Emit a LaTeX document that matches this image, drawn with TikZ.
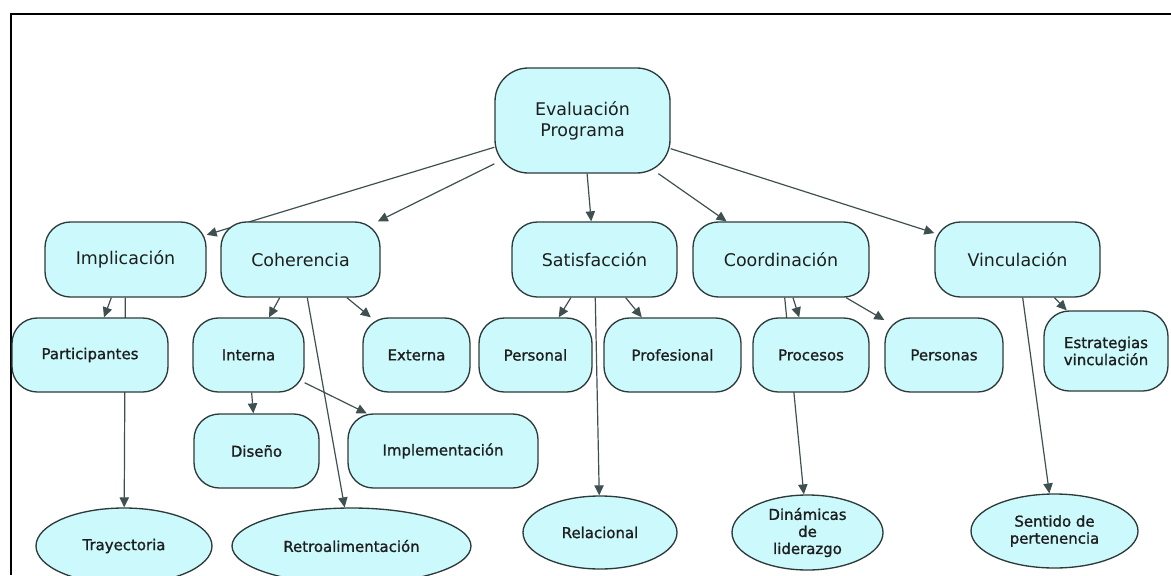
\documentclass[tikz,border=0pt]{standalone}
\usepackage{fontspec}
\setmainfont{DejaVu Sans}
\newfontfamily\subfont[FakeBold=1.2]{DejaVu Sans}
\usetikzlibrary{shapes.geometric,arrows.meta,backgrounds}

\definecolor{nodefill}{HTML}{CCFAFC}
\definecolor{nodeline}{HTML}{2E3A3A}
\definecolor{linkcol}{HTML}{3F5050}
\definecolor{textcol}{HTML}{1E1E1E}

\tikzset{
  concept/.style={draw=nodeline, fill=nodefill, line width=1pt, rounded corners=19pt,
    inner sep=0pt, text=textcol, align=center,
    font=\fontsize{13.1pt}{16pt}\selectfont},
  topic/.style={concept, rounded corners=25pt},
  sub/.style={concept, font=\subfont\fontsize{11.2pt}{12.8pt}\selectfont},
  leaf/.style={sub, ellipse, sharp corners},
  link/.style={draw=linkcol, line width=0.9pt, -{Triangle[length=7.5pt,width=7pt]}},
  frameline/.style={draw=black, line width=1.6pt},
}

\begin{document}
\begin{tikzpicture}[x=0.75pt, y=-0.75pt]
  \useasboundingbox (0,0) rectangle (1171,575);
  \clip (0,0) rectangle (1171,575);

  % page frame
  \draw[frameline] (10,14) -- (1171,14);
  \draw[frameline] (11,14) -- (11,575);

  % root
  \node[topic, minimum width=131.25pt, minimum height=78.75pt] (eval) at (582.5,120.5) {Evaluación\\Programa};

  % first level
  \node[concept, minimum width=120.75pt, minimum height=56.25pt] (impl)  at (125.5,259.5) {Implicación};
  \node[concept, minimum width=119.25pt, minimum height=56.25pt] (coher) at (300.5,259.5) {Coherencia};
  \node[concept, minimum width=123.75pt, minimum height=56.25pt] (satis) at (594.5,259.5) {Satisfacción};
  \node[concept, minimum width=132pt,    minimum height=56.25pt] (coord) at (781,259.5)   {Coordinación};
  \node[concept, minimum width=123.75pt, minimum height=56.25pt] (vinc)  at (1017.5,259.5){Vinculación};

  % second level
  \node[sub, minimum width=117pt,    minimum height=55.5pt] (part)     at (90,355)    {Participantes};
  \node[sub, minimum width=83.25pt,  minimum height=55.5pt] (interna)  at (248.5,355) {Interna};
  \node[sub, minimum width=80.25pt,  minimum height=55.5pt] (externa)  at (416.5,355) {Externa};
  \node[sub, minimum width=84.75pt,  minimum height=55.5pt] (personal) at (535.5,355) {Personal};
  \node[sub, minimum width=102.75pt, minimum height=55.5pt] (profes)   at (672.5,355) {Profesional};
  \node[sub, minimum width=87pt,     minimum height=55.5pt] (procesos) at (811,355)   {Procesos};
  \node[sub, minimum width=88.5pt,   minimum height=55.5pt] (personas) at (944,355)   {Personas};
  \node[sub, minimum width=93pt,     minimum height=60pt]   (estrat)   at (1106,351)  {Estrategias\\vinculación};

  % third level
  \node[sub, minimum width=93.75pt, minimum height=55.5pt] (diseno) at (256.5,451) {Diseño};
  \node[sub, minimum width=142.5pt, minimum height=55.5pt] (implem) at (443,451)   {Implementación};

  % leaves
  \node[leaf, minimum width=132pt,    minimum height=57pt]    (tray)    at (124,546)     {Trayectoria};
  \node[leaf, minimum width=179.25pt, minimum height=57pt]    (retro)   at (351.5,546)   {Retroalimentación};
  \node[leaf, minimum width=115.5pt,  minimum height=54.75pt] (relac)   at (600,532.5)   {Relacional};
  \node[leaf, minimum width=113.25pt, minimum height=56.25pt] (dinam)   at (807.5,532.5) {Dinámicas\\de\\liderazgo};
  \node[leaf, minimum width=125.25pt, minimum height=55.5pt]  (sentido) at (1054.5,531)  {Sentido de\\pertenencia};

  % connectors, kept behind the boxes they pass through
  \begin{pgfonlayer}{background}
    \draw[link] (eval) -- (impl);
    \draw[link] (eval) -- (coher);
    \draw[link] (eval) -- (satis);
    \draw[link] (eval) -- (coord);
    \draw[link] (eval) -- (vinc);

    \draw[link] (impl) -- (part);
    \draw[link] (impl) -- (tray);

    \draw[link] (coher) -- (interna);
    \draw[link] (coher) -- (externa);
    \draw[link] (coher) -- (retro);
    \draw[link] (interna) -- (diseno);
    \draw[link] (interna) -- (implem);

    \draw[link] (satis) -- (personal);
    \draw[link] (satis) -- (profes);
    \draw[link] (satis) -- (relac);

    \draw[link] (coord) -- (procesos);
    \draw[link] (coord) -- (personas);
    \draw[link] (coord) -- (dinam);

    \draw[link] (vinc) -- (estrat);
    \draw[link] (vinc) -- (sentido);
  \end{pgfonlayer}
\end{tikzpicture}
\end{document}
